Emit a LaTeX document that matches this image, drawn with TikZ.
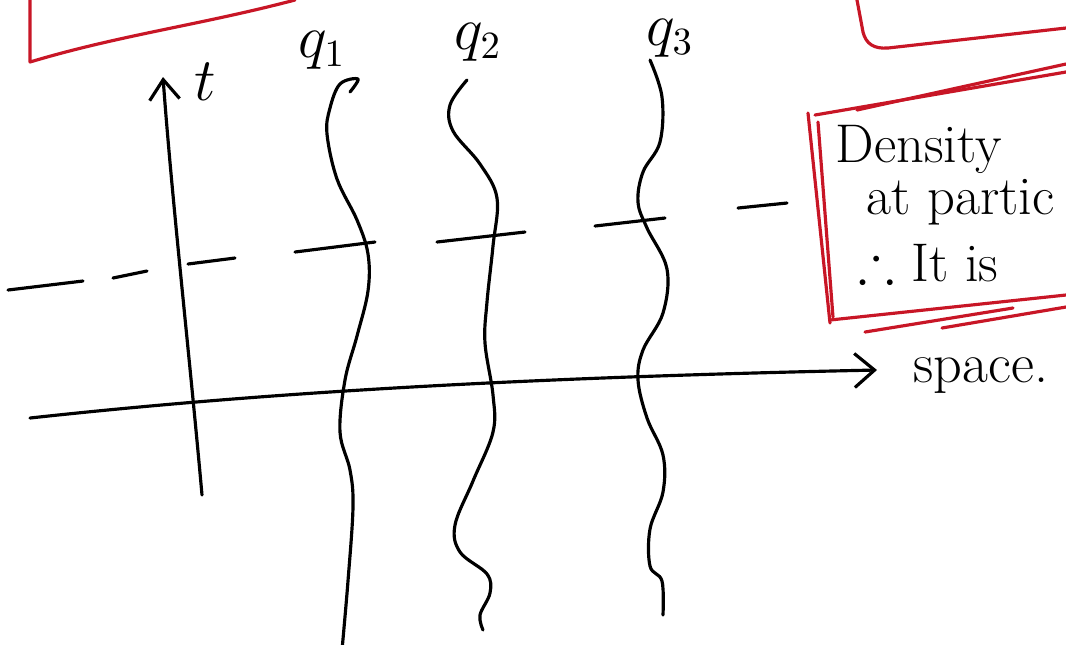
\documentclass[tikz,border=0pt]{standalone}
\usepackage{amsmath,amssymb}
\usetikzlibrary{arrows.meta,positioning}
\definecolor{inkred}{RGB}{200,22,38}
\begin{document}
\begin{tikzpicture}[
  x=0.01cm, y=-0.01cm,
  every node/.style={font=\fontsize{16}{19}\selectfont, inner sep=0pt},
  boxtext/.style={font=\fontsize{15.5}{18}\selectfont, anchor=base west},
  ink/.style={line width=0.9pt, black, line cap=round, line join=round},
  redink/.style={line width=0.9pt, inkred, line cap=round, line join=round},
  timearrow/.style={ink, -{Straight Barb[length=2mm,width=3mm]}},
  spacearrow/.style={ink, -{Straight Barb[length=2mm,width=3.4mm]}},
  level/.style={ink}
]
\clip (0,0) rectangle (1066,644);
\fill[white] (0,0) rectangle (1066,644);
% frames in red
\draw[redink] (30,0) -- (30,62) .. controls (120,35) and (200,25) .. (295,0);
\draw[redink] (857,0) -- (863,32) .. controls (866,44) and (874,49) .. (888,48) -- (1066,28);
\draw[redink] (815,115) -- (1066,72);
\draw[redink] (857,110) -- (1066,64);
\draw[redink] (808,113) -- (830,323);
\draw[redink] (818,122) -- (833,317);
\draw[redink] (830,320) -- (1066,295);
\draw[redink] (865,332) -- (1013,308);
\draw[redink] (942,328) -- (1066,307);
\node (density) [boxtext] at (835,162) {Density};
\node (atparti) [boxtext] at (866,214) {at partic};
\node (itis) [boxtext] at (858,281) {$\therefore$ It is};
% axes
\coordinate (tbot) at (202,495);
\coordinate (ttop) at (163,77);
\coordinate (sleft) at (30,418);
\coordinate (sright) at (877,370);
\draw[timearrow] (tbot) .. controls (190,360) and (172,200) .. (ttop);
\draw[spacearrow] (sleft) .. controls (250,394) and (500,378) .. (sright);
\node (tlabel) at (205,82) {$t$};
\node (spacelabel) [anchor=base west] at (913,382) {space.};
% equal-time slice
\foreach \xa/\ya/\xb/\yb in {8/290/83/281, 113/278/147/271, 188/264/235/258,
  295/252/375/242, 437/242/525/232, 595/226/665/218, 738/208/787/203}
  \draw[level] (\xa,\ya) -- (\xb,\yb);
% worldlines
\draw[ink] plot[smooth, tension=0.6] coordinates {(350,92) (358,79) (340,84)
  (330,108) (327,134) (337,179) (357,220) (368,254) (368,291) (357,336)
  (345,380) (340,432) (350,470) (353,507) (348,581) (342,650)};
\draw[ink] plot[smooth, tension=0.6] coordinates {(467,80) (450,105)
  (453,131) (480,164) (497,198) (493,246) (487,302) (485,343) (493,395)
  (493,432) (473,481) (455,525) (460,552) (487,574) (490,593) (480,615)
  (483,630)};
\draw[ink] plot[smooth, tension=0.6] coordinates {(650,60) (662,97)
  (660,142) (643,172) (638,202) (647,228) (667,269) (663,313) (643,350)
  (638,380) (647,418) (663,455) (663,492) (650,529) (650,566) (662,581)
  (663,615)};
\node (q1) at (322,50) {$q_1$};
\node (q2) at (478,42) {$q_2$};
\node (q3) at (670,38) {$q_3$};
\end{tikzpicture}
\end{document}
